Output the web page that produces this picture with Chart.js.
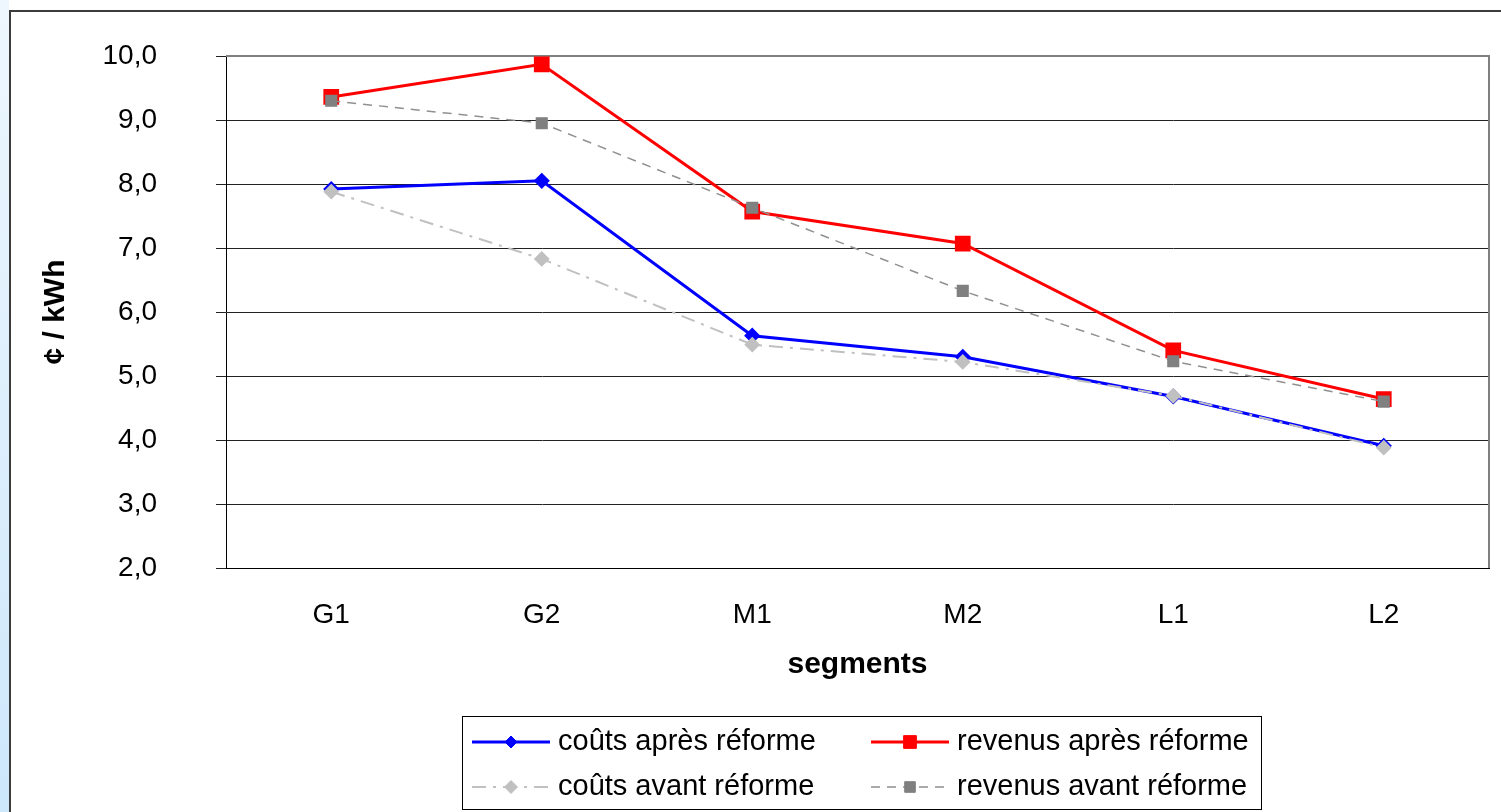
<!DOCTYPE html>
<html>
<head>
<meta charset="utf-8">
<script src="https://cdn.jsdelivr.net/npm/chart.js"></script>
<style>
  body { margin: 0; background: #fff; overflow: hidden; }
  #strip { position: absolute; left: 0; top: 0; width: 9px; height: 812px;
           background: linear-gradient(#eef7fe, #cde7fb); }
  #frame { position: absolute; left: 9px; top: 10px; width: 1600px; height: 900px;
           border-left: 2px solid #3c3c3c; border-top: 2px solid #3c3c3c; }
  #box { position: absolute; left: 0; top: 0; width: 1501px; height: 812px; }
</style>
</head>
<body>
<div id="strip"></div>
<div id="frame"></div>
<div id="box"><canvas id="chart"></canvas></div>
<script>
// values (¢ / kWh)
const segments = ["G1", "G2", "M1", "M2", "L1", "L2"];
const coutsApres = [7.92, 8.05, 5.63, 5.30, 4.68, 3.91];
const revenusApres = [9.36, 9.87, 7.57, 7.07, 5.40, 4.64];
const coutsAvant = [7.88, 6.83, 5.49, 5.22, 4.69, 3.88];
const revenusAvant = [9.30, 8.95, 7.63, 6.33, 5.23, 4.60];
const yMin = 2, yMax = 10, yStep = 1;

const FONT = "'Liberation Sans', Arial, sans-serif";
Chart.defaults.font.family = FONT;
Chart.defaults.color = "#000";

// gray frame on top and right of the plot area
const plotFrame = {
    id: "plotFrame",
    beforeDatasetsDraw(chart) {
        const { ctx, chartArea: a } = chart;
        ctx.save();
        ctx.strokeStyle = "#808080";
        ctx.lineWidth = 2;
        ctx.beginPath();
        ctx.moveTo(a.left, a.top);
        ctx.lineTo(a.right, a.top);
        ctx.lineTo(a.right, a.bottom);
        ctx.stroke();
        ctx.restore();
    }
};

// boxed legend, two columns x two rows, line sample + marker
const boxLegend = {
    id: "boxLegend",
    afterDraw(chart) {
        const ctx = chart.ctx;
        const ds = chart.data.datasets;
        ctx.save();
        ctx.strokeStyle = "#000";
        ctx.lineWidth = 1;
        ctx.strokeRect(462.5, 716.5, 799, 93);
        const cols = [472, 871];
        const rows = [742, 787];
        const slot = [[0, 0], [1, 0], [0, 1], [1, 1]];
        ds.forEach(function (d, i) {
            const x = cols[slot[i][0]], y = rows[slot[i][1]];
            ctx.save();
            ctx.strokeStyle = d.borderColor;
            ctx.lineWidth = d.borderWidth;
            ctx.setLineDash(d.borderDash || []);
            ctx.beginPath();
            ctx.moveTo(x, y);
            ctx.lineTo(x + 78, y);
            ctx.stroke();
            ctx.setLineDash([]);
            ctx.fillStyle = d.pointBackgroundColor;
            ctx.strokeStyle = d.pointBorderColor;
            ctx.lineWidth = 1;
            Chart.helpers.drawPoint(ctx, {
                pointStyle: d.pointStyle, radius: d.pointRadius, rotation: 0, borderWidth: 1
            }, x + 39, y);
            ctx.restore();
            ctx.fillStyle = "#000";
            ctx.font = "29px " + FONT;
            ctx.textBaseline = "middle";
            ctx.textAlign = "left";
            ctx.fillText(d.label, x + 86, y);
        });
        ctx.restore();
    }
};

new Chart("chart", {
    type: "line",
    data: {
        labels: segments,
        datasets: [{
            label: "coûts après réforme",
            data: coutsApres,
            borderColor: "#0000ff",
            borderWidth: 3,
            pointStyle: "rectRot",
            pointRadius: 6,
            pointBackgroundColor: "#0000ff",
            pointBorderColor: "#0000ff",
            order: 2
        }, {
            label: "revenus après réforme",
            data: revenusApres,
            borderColor: "#ff0000",
            borderWidth: 3,
            pointStyle: "rect",
            pointRadius: 9,
            pointBackgroundColor: "#ff0000",
            pointBorderColor: "#ff0000",
            order: 2
        }, {
            label: "coûts avant réforme",
            data: coutsAvant,
            borderColor: "#c0c0c0",
            borderWidth: 2,
            borderDash: [14, 7, 3, 7],
            pointStyle: "rectRot",
            pointRadius: 6.5,
            pointBackgroundColor: "#c0c0c0",
            pointBorderColor: "#c0c0c0",
            order: 1
        }, {
            label: "revenus avant réforme",
            data: revenusAvant,
            borderColor: "#909090",
            borderWidth: 1.5,
            borderDash: [9, 7],
            pointStyle: "rect",
            pointRadius: 7.5,
            pointBackgroundColor: "#808080",
            pointBorderColor: "#808080",
            order: 0
        }]
    },
    options: {
        responsive: true,
        maintainAspectRatio: false,
        animation: false,
        events: [],
        layout: { padding: { left: 38, top: 56, right: 2, bottom: 129 } },
        elements: { line: { tension: 0 }, point: { borderWidth: 1 } },
        plugins: {
            legend: { display: false },
            tooltip: { enabled: false }
        },
        scales: {
            x: {
                offset: true,
                grid: { display: false, drawTicks: false },
                border: { color: "#000", width: 1 },
                ticks: { padding: 30, font: { size: 28 }, color: "#000" },
                title: {
                    display: true, text: "segments",
                    font: { size: 30, weight: "bold" }, color: "#000",
                    padding: 0
                },
                afterFit(scale) { scale.height = 115; }
            },
            y: {
                min: yMin, max: yMax,
                grid: { color: "#222", lineWidth: 1, drawTicks: true, tickLength: 10 },
                border: { color: "#000", width: 1 },
                ticks: {
                    stepSize: yStep, padding: 59, font: { size: 28 }, color: "#000",
                    callback: v => v.toFixed(1).replace(".", ",")
                },
                title: {
                    display: true, text: "¢ / kWh",
                    font: { size: 30, weight: "bold" }, color: "#000",
                    padding: 0
                },
                afterFit(scale) {
                    scale.width = 188;
                    scale.paddingTop = 17;
                    scale.paddingBottom = 17;
                }
            }
        }
    },
    plugins: [plotFrame, boxLegend]
});
</script>
</body>
</html>
